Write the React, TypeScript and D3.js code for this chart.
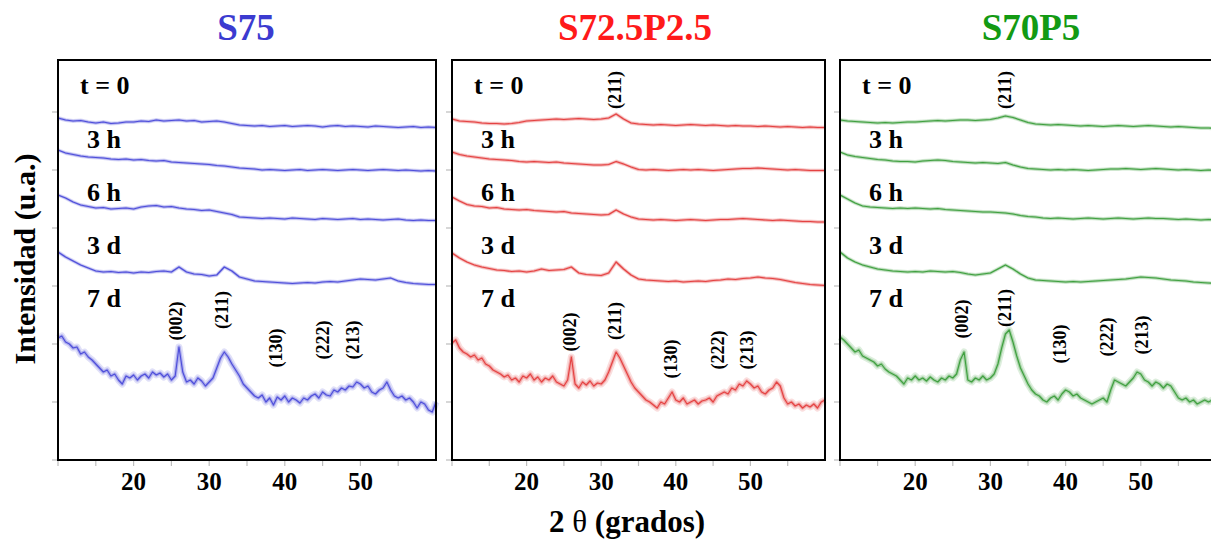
import React from "react";
import * as d3 from "d3";

// ---------------- DATA ----------------
// 2θ range (degrees) and tick labels
const twoThetaDomain = [10, 60];
const xTickLabels = [20, 30, 40, 50];
const xMinorTicks = [10, 15, 20, 25, 30, 35, 40, 45, 50, 55];
const yTickValues = [0, 58, 116, 174, 232, 290, 348];
const timeLabels = ["t = 0", "3 h", "6 h", "3 d", "7 d"];
const panelTitles = ["S75", "S72.5P2.5", "S70P5"];

// Intensity (a.u., stacked with offsets) sampled every 1° (t=0..3d) and 0.5° (7d)
const s75_t0 = [342, 340, 339, 339.5, 338, 337, 338, 336.5, 337, 338, 338, 339, 338.5, 340, 339, 339.5, 340, 339, 339.5, 338, 338.5, 339, 338, 336.5, 335, 334.5, 334, 334.5, 333.5, 334, 334.5, 333.5, 334, 334.5, 334, 333, 334, 334.5, 333.5, 334, 333.5, 333, 334, 333.5, 333, 332.5, 333, 333.5, 332.5, 333, 332.5];
const s75_3h = [310, 307, 305.5, 304, 303, 302.5, 302, 301, 300.5, 301, 300, 300.5, 299.5, 299, 299.5, 298, 297.5, 297, 296.5, 296, 295.5, 294.5, 294, 293, 292, 291.5, 291, 290, 290.5, 290, 289.5, 290, 290.5, 289.5, 290, 290.5, 290, 289.5, 290, 290.5, 290, 289.5, 290, 290.5, 290, 289.5, 290, 289.5, 289, 289.5, 289];
const s75_6h = [265, 262, 258, 255, 253.5, 252, 252.5, 251, 251.5, 252, 251, 253, 254, 254.5, 253, 253.5, 252, 251, 250.5, 249.5, 250, 248.5, 247, 245.5, 243, 242.5, 242, 241.5, 242, 241.5, 241, 242, 241.5, 241, 240.5, 241.5, 241, 240.5, 241, 241.5, 240.5, 241, 240.5, 240, 240.5, 241, 240, 239.5, 240, 239.5, 239.5];
const s75_3d = [208, 203, 199, 195, 192, 189, 188, 188.5, 187.5, 188, 187, 188, 187.5, 188.5, 189, 188, 193, 188, 186, 185.5, 184, 185, 193, 189, 183, 181, 179, 178.5, 178, 177.5, 177, 176.5, 177, 177.5, 177, 178, 178.5, 178, 179, 180, 181, 180.5, 180, 181, 182, 179, 177.5, 176.5, 176, 175.5, 175.5];
const s75_7d = [122, 124, 118, 116, 112, 113, 106, 108, 103, 100, 96, 92, 88, 90, 84, 86, 80, 76, 84, 82, 85, 80, 84, 86, 82, 88, 85, 87, 83, 86, 80, 84, 113, 88, 78, 80, 76, 82, 79, 74, 78, 82, 92, 102, 108, 103, 96, 90, 84, 76, 72, 68, 64, 62, 65, 58, 62, 55, 63, 60, 64, 58, 62, 60, 57, 62, 60, 64, 66, 62, 68, 65, 64, 70, 68, 72, 70, 74, 73, 78, 76, 72, 74, 68, 66, 70, 72, 78, 70, 64, 62, 64, 60, 62, 58, 52, 58, 56, 50, 48, 58];

const s725_t0 = [341, 339, 338.5, 338, 337, 336.5, 336.5, 336, 336.5, 337.5, 339, 339.5, 340, 340.5, 341, 340.5, 341, 341.5, 341, 340.5, 341, 342, 346, 341, 337, 336, 335.5, 335, 335.5, 335, 334.5, 335, 335.5, 335, 334.5, 335, 334.5, 334, 334.5, 334, 334, 333.5, 334, 333.5, 333, 333.5, 333, 332.5, 333, 332.5, 332.5];
const s725_3h = [308, 305.5, 304, 303, 302, 301, 300.5, 300, 299.5, 298.5, 298, 298.5, 298, 297.5, 298, 297, 296.5, 296, 295.5, 295, 295, 295.5, 298.5, 296, 293, 290.5, 290, 290.5, 290, 289.5, 290, 290.5, 290, 290.5, 290, 289.5, 290, 290.5, 291, 291.5, 291.5, 292, 291.5, 291, 290.5, 290, 290.5, 290, 289.5, 289.5, 289.5];
const s725_6h = [263, 259, 255.5, 254, 253.5, 252, 252.5, 251, 250.5, 250, 250.5, 249.5, 249, 248.5, 248, 248.5, 247, 246.5, 246, 245.5, 245, 245.5, 250, 246, 243, 241, 240.5, 240, 240.5, 240, 239.5, 240, 240.5, 240, 239.5, 240, 240.5, 240.5, 241, 241.5, 241, 240.5, 240, 239.5, 240, 239.5, 239, 238.5, 238.5, 238, 238];
const s725_3d = [207, 202, 198, 195, 193, 191.5, 190, 189.5, 188.5, 189, 188, 189, 191, 189.5, 190, 190.5, 193, 187, 185.5, 185, 184.5, 187, 198, 191, 185, 181, 180, 179.5, 179, 178.5, 179, 178, 178.5, 179, 178.5, 179.5, 180, 181, 180.5, 181.5, 182, 183, 182, 181.5, 180.5, 179, 177.5, 176.5, 175.5, 175, 174.5];
const s725_7d = [117, 120, 112, 108, 106, 103, 105, 100, 102, 96, 94, 90, 88, 86, 83, 85, 80, 82, 78, 84, 82, 86, 80, 83, 78, 82, 80, 84, 78, 76, 74, 80, 103, 76, 72, 78, 75, 79, 74, 77, 76, 80, 88, 98, 108, 102, 94, 86, 78, 72, 68, 64, 60, 58, 55, 52, 58, 56, 62, 68, 60, 58, 62, 56, 58, 60, 56, 59, 60, 62, 58, 64, 66, 68, 66, 72, 70, 76, 74, 79, 76, 72, 74, 68, 66, 70, 72, 78, 74, 62, 56, 58, 54, 56, 52, 55, 53, 56, 52, 58, 60];

const s70_t0 = [340, 339, 338.5, 338, 337.5, 337, 337.5, 337, 337.5, 338, 338, 338.5, 339, 339.5, 339, 339.5, 340, 340, 339.5, 340, 340.5, 342, 344, 342.5, 340, 337.5, 336, 335.5, 335, 335.5, 335, 334.5, 334, 334.5, 334, 333.5, 334, 334.5, 334, 333.5, 334, 334.5, 334, 333.5, 333, 333.5, 333, 332.5, 332, 332, 331.5];
const s70_3h = [308, 305, 303.5, 302.5, 301.5, 300.5, 300, 299, 298.5, 298.5, 298, 299, 299.5, 300, 299.5, 298.5, 298, 297.5, 297, 297.5, 297, 296.5, 297.5, 295, 293, 291.5, 291, 290.5, 290, 290.5, 290, 290.5, 290, 289.5, 290, 290.5, 291, 291, 291.5, 291, 290.5, 291, 291.5, 291, 290.5, 290, 290.5, 290, 289.5, 290, 289.5];
const s70_6h = [265, 261, 257, 254, 253, 252.5, 252, 251.5, 252, 251.5, 252, 251.5, 251, 251.5, 250.5, 250, 249.5, 249, 248.5, 248, 248, 247.5, 247, 246, 244.5, 243.5, 243, 242, 241.5, 242, 241.5, 241, 241.5, 242, 241.5, 241, 241.5, 242, 241.5, 241, 241.5, 242, 241.5, 241.5, 241, 240.5, 241, 240.5, 240, 240.5, 240];
const s70_3d = [208, 202, 198, 195, 193, 191, 190, 189, 188.5, 188, 188.5, 188, 189, 188.5, 188, 188.5, 187.5, 186, 185, 186, 187, 191, 195, 191, 186, 182, 180, 179.5, 179, 178.5, 178, 178.5, 178, 178.5, 179, 179.5, 180, 180.5, 181, 182, 183, 182.5, 182, 181, 180, 179.5, 179, 178, 177.5, 177, 176.5];
const s70_7d = [123, 120, 116, 112, 108, 110, 104, 102, 100, 98, 94, 96, 91, 88, 86, 84, 80, 76, 82, 80, 84, 80, 82, 79, 83, 80, 78, 82, 80, 84, 82, 86, 100, 108, 80, 78, 82, 80, 84, 80, 82, 86, 96, 112, 126, 130, 118, 104, 92, 84, 76, 70, 66, 64, 60, 58, 62, 64, 60, 66, 70, 68, 64, 66, 62, 60, 58, 56, 58, 60, 62, 58, 70, 80, 78, 76, 74, 78, 82, 88, 86, 80, 78, 74, 78, 76, 72, 76, 74, 68, 62, 60, 62, 58, 60, 56, 58, 60, 58, 60, 62];

// Miller indices and their 2θ positions
const hklNames = ["(002)", "(211)", "(130)", "(222)", "(213)"];
const hklDegS75 = [25.6, 31.7, 38.9, 45.0, 49.0];
const hklDegS725 = [25.8, 31.9, 39.4, 45.6, 49.5];
const hklDegS70 = [26.2, 31.9, 39.3, 45.5, 50.1];
const hklT0Deg = [null, 31.8, 31.9]; // (211) above t = 0 curve

// ---------------- LAYOUT / STYLE ----------------
const W = 1211;
const H = 543;
const TOP = 60;
const BOTTOM = 460;
const FONT = "'Liberation Serif', 'Times New Roman', Times, serif";

const panelLeft = [58, 452, 840];
const panelRight = [436, 825, 1216];
const titleX = [246, 635, 1031];
const titleColors = ["#3b3bd0", "#ff1a1a", "#139a13"];
const lineColors = ["#3d3dd6", "#e23030", "#2e962e"];
const timeLabelBaselines = [94, 148, 201, 254, 307];
const hklCenterY = [
  [321, 310, 348, 340, 340],
  [332, 321, 359, 350, 350],
  [319, 308, 344, 337, 335],
];
const hklT0CenterY = 90;

const panelSeries = [
  [s75_t0, s75_3h, s75_6h, s75_3d, s75_7d],
  [s725_t0, s725_3h, s725_6h, s725_3d, s725_7d],
  [s70_t0, s70_3h, s70_6h, s70_3d, s70_7d],
];
const panelHklDeg = [hklDegS75, hklDegS725, hklDegS70];

const yScale = d3.scaleLinear().domain([0, 400]).range([BOTTOM, TOP]);

function Panel({ idx }: { idx: number }) {
  const left = panelLeft[idx];
  const right = panelRight[idx];
  const x = d3.scaleLinear().domain(twoThetaDomain).range([left, right]);
  const color = lineColors[idx];
  const series = panelSeries[idx];
  const [d0, d1] = twoThetaDomain;

  const paths = series.map((vals) => {
    const step = (d1 - d0) / (vals.length - 1);
    const line = d3
      .line<number>()
      .x((_, i) => x(d0 + i * step))
      .y((v) => yScale(v));
    return line(vals) as string;
  });

  return (
    <g>
      <text
        x={titleX[idx]}
        y={40}
        textAnchor="middle"
        fontFamily={FONT}
        fontWeight="bold"
        fontSize={37}
        fill={titleColors[idx]}
      >
        {panelTitles[idx]}
      </text>

      {yTickValues.map((v) => (
        <line
          key={"yt" + v}
          x1={left - 6}
          x2={left - 1}
          y1={yScale(v)}
          y2={yScale(v)}
          stroke="#bdbdbd"
          strokeWidth={1.2}
        />
      ))}
      {xMinorTicks.map((t) => (
        <line
          key={"xt" + t}
          x1={x(t)}
          x2={x(t)}
          y1={BOTTOM + 1}
          y2={BOTTOM + 6}
          stroke="#bdbdbd"
          strokeWidth={1.2}
        />
      ))}
      {xTickLabels.map((t) => (
        <text
          key={"xl" + t}
          x={x(t)}
          y={490}
          textAnchor="middle"
          fontFamily={FONT}
          fontWeight="bold"
          fontSize={25}
          fill="#000"
        >
          {t}
        </text>
      ))}

      {paths.map((p, i) => (
        <g key={"c" + i}>
          <path d={p} fill="none" stroke={color} strokeOpacity={0.16} strokeWidth={i === 4 ? 7 : 4} strokeLinejoin="round" />
          <path d={p} fill="none" stroke={color} strokeOpacity={0.3} strokeWidth={i === 4 ? 3.5 : 2.4} strokeLinejoin="round" />
          <path d={p} fill="none" stroke={color} strokeOpacity={0.85} strokeWidth={1.2} strokeLinejoin="round" />
        </g>
      ))}

      {timeLabels.map((lab, i) => (
        <text
          key={"tl" + i}
          x={left + (i === 0 ? 22 : 29)}
          y={timeLabelBaselines[i]}
          fontFamily={FONT}
          fontWeight="bold"
          fontSize={26}
          fill="#000"
        >
          {lab}
        </text>
      ))}

      {hklNames.map((name, i) => (
        <text
          key={"hkl" + i}
          transform={`translate(${x(panelHklDeg[idx][i])},${hklCenterY[idx][i]}) rotate(-90)`}
          textAnchor="middle"
          dominantBaseline="central"
          fontFamily={FONT}
          fontWeight="bold"
          fontSize={18}
          fill="#000"
        >
          {name}
        </text>
      ))}
      {hklT0Deg[idx] !== null && (
        <text
          transform={`translate(${x(hklT0Deg[idx] as number)},${hklT0CenterY}) rotate(-90)`}
          textAnchor="middle"
          dominantBaseline="central"
          fontFamily={FONT}
          fontWeight="bold"
          fontSize={18}
          fill="#000"
        >
          {hklNames[1]}
        </text>
      )}

      <rect
        x={left}
        y={TOP}
        width={right - left}
        height={BOTTOM - TOP}
        fill="none"
        stroke="#000"
        strokeWidth={2}
      />
    </g>
  );
}

export default function App() {
  return (
    <svg
      width={W}
      height={H}
      viewBox={`0 0 ${W} ${H}`}
      style={{ position: "absolute", left: 0, top: 0, display: "block", background: "#fff" }}
    >
      <rect x={0} y={0} width={W} height={H} fill="#fff" />
      {[0, 1, 2].map((i) => (
        <Panel key={i} idx={i} />
      ))}
      <text
        transform="translate(35,259) rotate(-90)"
        textAnchor="middle"
        fontFamily={FONT}
        fontWeight="bold"
        fontSize={30}
        fill="#000"
      >
        Intensidad (u.a.)
      </text>
      <text
        x={627}
        y={532}
        textAnchor="middle"
        fontFamily={FONT}
        fontWeight="bold"
        fontSize={31}
        fill="#000"
      >
        2 <tspan fontWeight="normal">θ</tspan> (grados)
      </text>
    </svg>
  );
}
